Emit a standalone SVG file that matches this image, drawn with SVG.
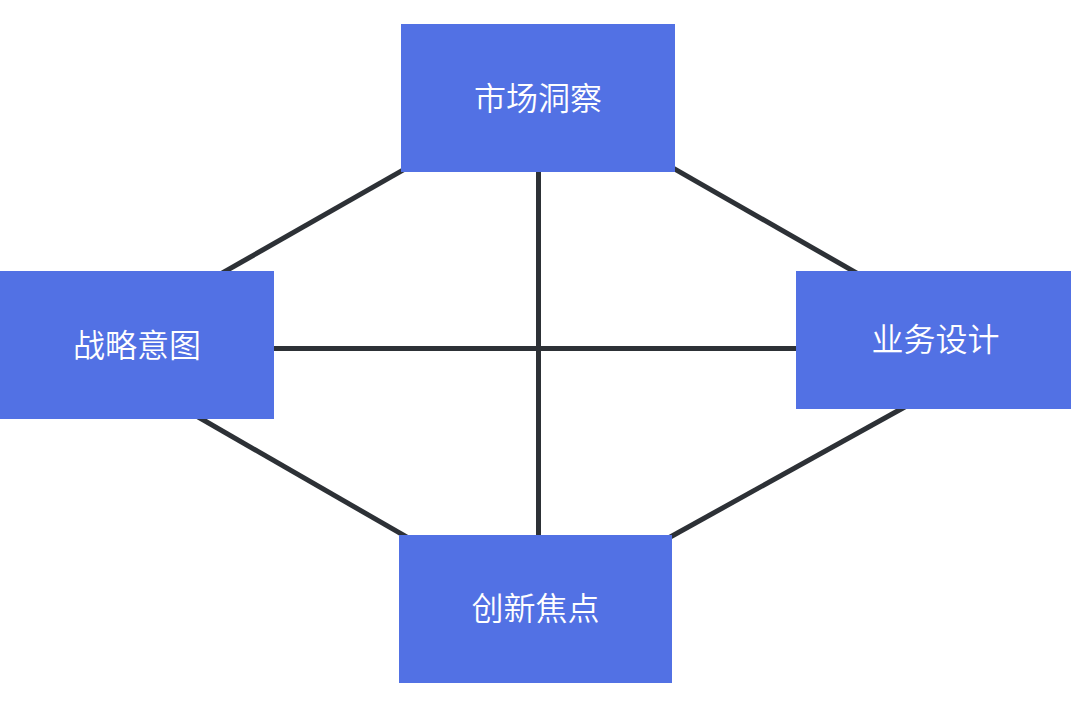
<svg xmlns="http://www.w3.org/2000/svg" width="1071" height="728" viewBox="0 0 1071 728">
<style>
.node{fill:#5271E4}
.lbl{fill:#ffffff;font-family:"Noto Sans CJK SC","Noto Sans",sans-serif;font-size:32px;font-weight:350;text-anchor:middle;dominant-baseline:central}
.edge{stroke:#2D3136;stroke-width:5;fill:none}
</style>
<rect width="1071" height="728" fill="#ffffff"/>
<g id="connectors">
<line class="edge" x1="420" y1="160.3" x2="200" y2="285.7"/>
<line class="edge" x1="660" y1="160.6" x2="880" y2="286.4"/>
<line class="edge" x1="180" y1="406.5" x2="420" y2="544.7"/>
<line class="edge" x1="930" y1="393" x2="650" y2="548.2"/>
<line class="edge" x1="538.5" y1="165" x2="538.5" y2="540"/>
<line class="edge" x1="270" y1="348.5" x2="800" y2="348.5"/>
</g>
<g id="node-market">
<rect class="node" x="401" y="24" width="274" height="148"/>
<text class="lbl" x="538" y="96">市场洞察</text>
</g>
<g id="node-strategy">
<rect class="node" x="0" y="271" width="274" height="148"/>
<text class="lbl" x="137" y="343">战略意图</text>
</g>
<g id="node-business">
<rect class="node" x="796" y="271" width="275" height="138"/>
<text class="lbl" x="935.5" y="337">业务设计</text>
</g>
<g id="node-innovation">
<rect class="node" x="399" y="535" width="273" height="148"/>
<text class="lbl" x="535.5" y="606">创新焦点</text>
</g>
</svg>
